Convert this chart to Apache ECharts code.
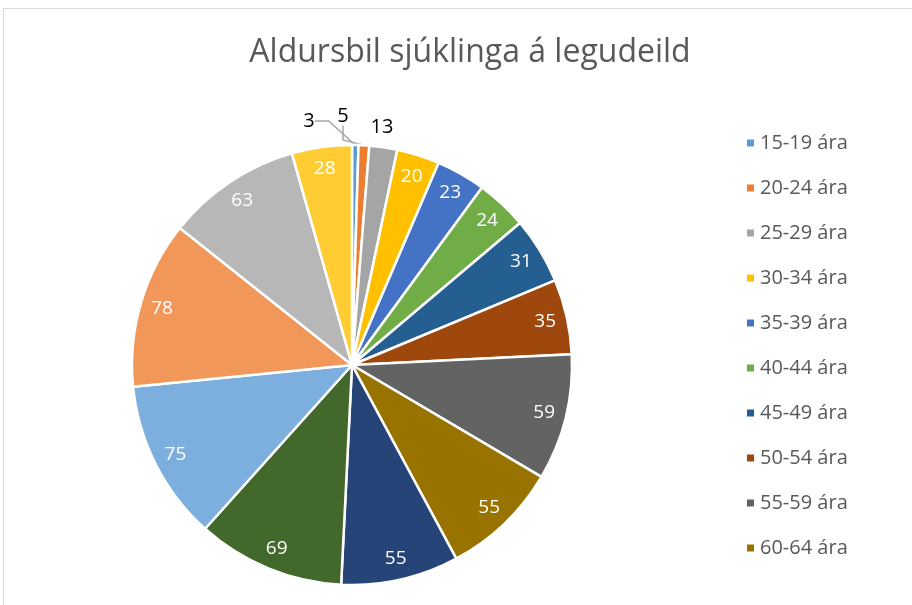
<!DOCTYPE html>
<html>
<head>
<meta charset="utf-8">
<script src="https://cdn.jsdelivr.net/npm/echarts@6/dist/echarts.min.js"></script>
<style>
  html, body { margin: 0; padding: 0; background: #fff; }
  #chart { width: 912px; height: 605px; }
</style>
</head>
<body>
<div id="chart"></div>
<script>
// aldurshópar og fjöldi sjúklinga
var categories = ['15-19 ára', '20-24 ára', '25-29 ára', '30-34 ára', '35-39 ára',
  '40-44 ára', '45-49 ára', '50-54 ára', '55-59 ára', '60-64 ára',
  '65-69 ára', '70-74 ára', '75-79 ára', '80-84 ára', '85-89 ára', '90+ ára'];
var values = [3, 5, 13, 20, 23, 24, 31, 35, 59, 55, 55, 69, 75, 78, 63, 28];
var colors = ['#5B9BD5', '#ED7D31', '#A5A5A5', '#FFC000', '#4472C4', '#70AD47',
  '#255E91', '#9E480E', '#636363', '#997300', '#264478', '#43682B',
  '#7CAFDD', '#F1975A', '#B7B7B7', '#FFCD33'];
var legendShown = categories.slice(0, 10);
var outsideCount = 3;

var font = 'Open Sans, Liberation Sans, sans-serif';

var mainData = categories.map(function (name, i) {
  var item = { name: name, value: values[i], itemStyle: { color: colors[i] } };
  if (i < outsideCount) {
    item.label = { show: true };
    item.labelLine = { show: i < 2 };
  }
  return item;
});

var labelData = categories.map(function (name, i) {
  return { name: name, value: values[i], label: { show: i >= outsideCount } };
});

var myChart = echarts.init(document.getElementById('chart'));
myChart.setOption({
  animation: false,
  color: colors,
  title: {
    text: 'Aldursbil sjúklinga á legudeild',
    left: 465,
    top: 32,
    textAlign: 'center',
    textStyle: { fontFamily: font, fontSize: 32, fontWeight: 'normal', color: '#595959' }
  },
  graphic: [{
    type: 'rect',
    shape: { x: 3.5, y: 8.5, width: 1000, height: 700 },
    style: { fill: 'none', stroke: '#D9D9D9', lineWidth: 1 },
    silent: true
  }],
  legend: {
    orient: 'vertical',
    left: 740,
    top: 127,
    data: legendShown,
    icon: 'rect',
    itemWidth: 9,
    itemHeight: 9,
    itemGap: 23,
    textStyle: { fontFamily: font, fontSize: 20, color: '#595959', lineHeight: 22 }
  },
  series: [
    {
      type: 'pie',
      center: [352, 365],
      radius: [0, 220],
      startAngle: 90,
      clockwise: true,
      data: mainData,
      itemStyle: { borderColor: '#fff', borderWidth: 2.5 },
      label: {
        show: false,
        position: 'outside',
        fontFamily: font,
        fontSize: 20,
        color: '#000',
        formatter: '{c}'
      },
      labelLine: { length: 8, length2: 14, lineStyle: { color: '#A6A6A6', width: 1.5 } },
      labelLayout: function (p) {
        if (p.dataIndex === 0) return { x: 309, y: 121, align: 'center', verticalAlign: 'middle' };
        if (p.dataIndex === 1) return { x: 343, y: 116, align: 'center', verticalAlign: 'middle' };
        if (p.dataIndex === 2) return { x: 382, y: 127, align: 'center', verticalAlign: 'middle' };
        return {};
      },
      emphasis: { disabled: true }
    },
    {
      type: 'pie',
      center: [352, 365],
      radius: [170, 220],
      startAngle: 90,
      clockwise: true,
      silent: true,
      legendHoverLink: false,
      data: labelData,
      itemStyle: { color: 'rgba(0,0,0,0)', borderWidth: 0 },
      label: {
        position: 'inside',
        fontFamily: font,
        fontSize: 19,
        color: '#fff',
        formatter: '{c}'
      },
      labelLine: { show: false },
      emphasis: { disabled: true }
    }
  ]
});
</script>
</body>
</html>
